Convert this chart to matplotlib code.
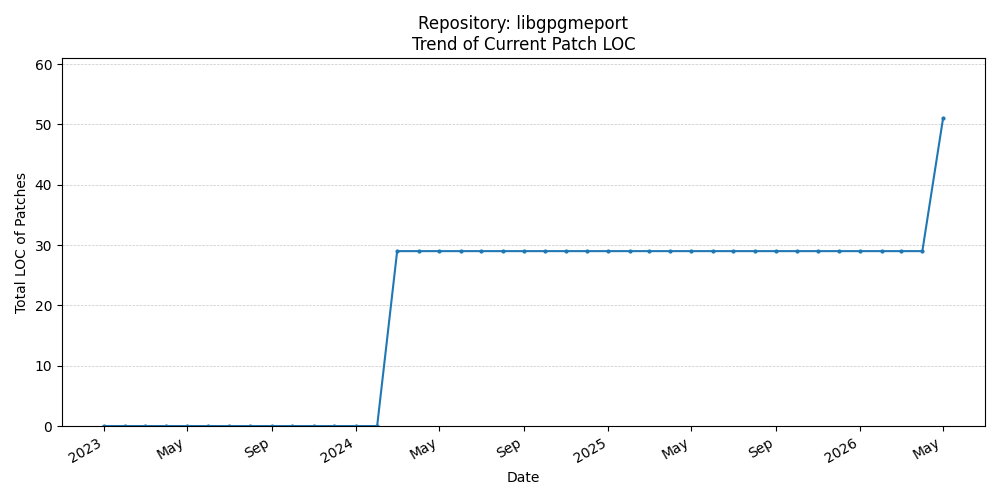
import matplotlib
matplotlib.use("Agg")
import matplotlib.pyplot as plt
import matplotlib.dates as mdates
import pandas as pd

dates = pd.date_range("2023-01-01", "2026-05-01", freq="MS")
# 0 through Feb 2024, 29 from Mar 2024 to Apr 2026, 51 in May 2026
loc_values = [0] * 14 + [29] * 26 + [51]

fig, ax = plt.subplots(figsize=(10, 5), dpi=100)
ax.plot(dates, loc_values, marker="o", markersize=2, color="#1f77b4")
ax.set_title("Repository: libgpgmeport\nTrend of Current Patch LOC")
ax.set_xlabel("Date")
ax.set_ylabel("Total LOC of Patches")
ax.set_ylim(0, 61)
ax.grid(axis="y", linestyle="--", linewidth=0.5, alpha=0.7)
locator = mdates.AutoDateLocator()
ax.xaxis.set_major_locator(locator)
ax.xaxis.set_major_formatter(mdates.ConciseDateFormatter(locator))
fig.autofmt_xdate()
fig.tight_layout()
fig.savefig("out.png")
